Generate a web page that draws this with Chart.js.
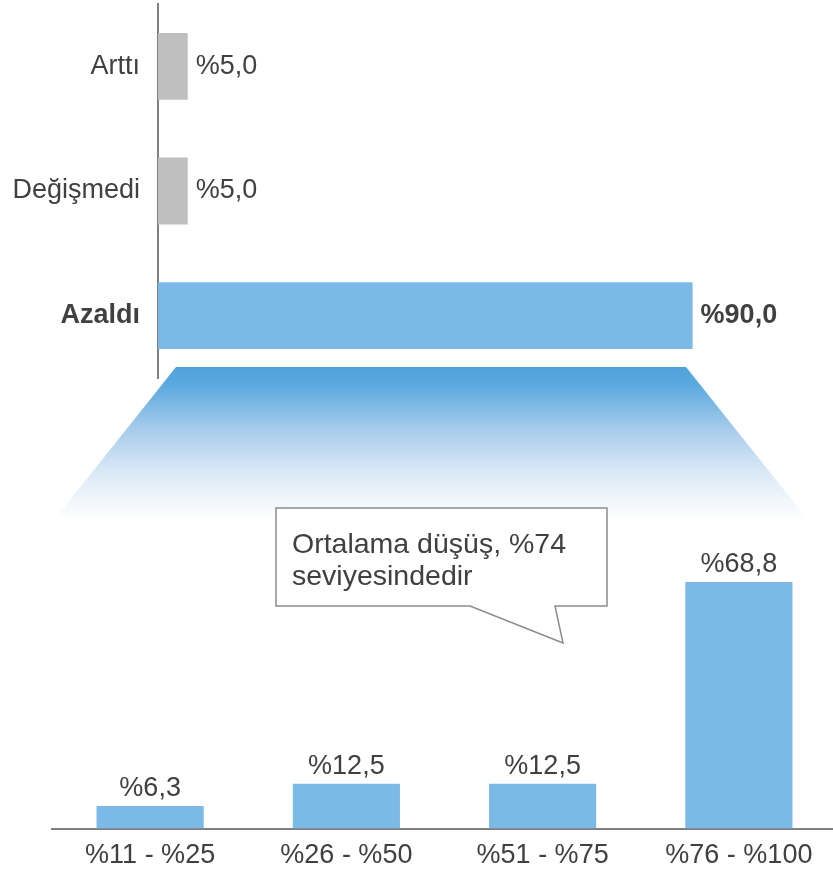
<!doctype html>
<html lang="tr">
<head>
<meta charset="utf-8">
<title>Azalma dağılımı</title>
<script src="https://cdn.jsdelivr.net/npm/chart.js"></script>
<style>
  body { margin: 0; width: 833px; height: 870px; overflow: hidden; background: #fff; position: relative; }
  #top { position: absolute; left: 0; top: 0; z-index: 2; }
  #bottom { position: absolute; left: 0; top: 360px; z-index: 1; }
</style>
</head>
<body>
<canvas id="top" width="833" height="380"></canvas>
<canvas id="bottom" width="840" height="526"></canvas>
<script>
  // ---------------- data ----------------
  const durum_labels = ['Arttı', 'Değişmedi', 'Azaldı']
  const durum_values = [5.0, 5.0, 90.0]
  const dusus_labels = ['%11 - %25', '%26 - %50', '%51 - %75', '%76 - %100']
  const dusus_values = [6.3, 12.5, 12.5, 68.8]
  const callout_lines = ['Ortalama düşüş, %74', 'seviyesindedir']

  const FONT = '"Liberation Sans", Arial, sans-serif'
  const TEXT = '#404040'
  const BLUE = '#7BB9E6'
  const GREY = '#BFBFBF'
  const AXIS = '#808080'

  const fmt = v => '%' + v.toFixed(1).replace('.', ',')

  //---------------- top: horizontal bars ----------------
  const topLabels = {
    id: 'topLabels',
    afterDatasetsDraw(chart) {
      const ctx = chart.ctx
      ctx.save()
      ctx.fillStyle = TEXT
      ctx.textAlign = 'left'
      ctx.textBaseline = 'middle'
      chart.getDatasetMeta(0).data.forEach((bar, i) => {
        ctx.font = (i === 2 ? 'bold ' : '') + '27px ' + FONT
        ctx.fillText(fmt(durum_values[i]), bar.x + 8, bar.y)
      })
      ctx.restore()
    }
  }

  new Chart(document.getElementById('top'), {
    type: 'bar',
    data: {
      labels: durum_labels,
      datasets: [{
        data: durum_values,
        backgroundColor: [GREY, GREY, BLUE],
        barPercentage: 0.536,
        categoryPercentage: 1
      }]
    },
    options: {
      indexAxis: 'y',
      responsive: false,
      animation: false,
      layout: { padding: { top: 4, bottom: 2, right: 81 } },
      plugins: { legend: { display: false }, tooltip: { enabled: false } },
      scales: {
        x: { display: false, min: 0, max: 100 },
        y: {
          afterFit: s => {
            s.width = 158
            s.paddingTop = 0
            s.paddingBottom = 0
          },
          grid: { display: false, drawTicks: false },
          border: { color: AXIS, width: 2 },
          ticks: {
            padding: 18,
            color: TEXT,
            font: c => ({ family: FONT, size: 27, weight: c.index === 2 ? 'bold' : 'normal' })
          }
        }
      }
    },
    plugins: [topLabels]
  })

  //---------------- bottom: vertical bars ----------------
  const zoomShape = {
    id: 'zoomShape',
    beforeDraw(chart) {
      const ctx = chart.ctx
      const g = ctx.createLinearGradient(0, 7, 0, 160)
      g.addColorStop(0, '#4EA3DB')
      g.addColorStop(0.12, '#5BA9DE')
      g.addColorStop(0.4, '#A6CBEB')
      g.addColorStop(0.7, '#DCEAF7')
      g.addColorStop(1, '#FFFFFF')
      ctx.save()
      ctx.fillStyle = g
      ctx.beginPath()
      ctx.moveTo(176, 7)
      ctx.lineTo(686, 7)
      ctx.lineTo(808, 160)
      ctx.lineTo(54, 160)
      ctx.closePath()
      ctx.fill()
      ctx.restore()
    },
    afterDraw(chart) {
      const ctx = chart.ctx
      ctx.save()
      ctx.beginPath()
      ctx.moveTo(276, 148)
      ctx.lineTo(607, 148)
      ctx.lineTo(607, 246)
      ctx.lineTo(555, 246)
      ctx.lineTo(563, 283)
      ctx.lineTo(470, 246)
      ctx.lineTo(276, 246)
      ctx.closePath()
      ctx.fillStyle = '#FFFFFF'
      ctx.fill()
      ctx.strokeStyle = '#8C8C8C'
      ctx.lineWidth = 1.5
      ctx.stroke()
      ctx.fillStyle = TEXT
      ctx.font = '28.5px ' + FONT
      ctx.textAlign = 'left'
      ctx.textBaseline = 'alphabetic'
      callout_lines.forEach((t, i) => ctx.fillText(t, 292, 193 + i * 32))
      ctx.restore()
    }
  }

  const bottomLabels = {
    id: 'bottomLabels',
    afterDatasetsDraw(chart) {
      const ctx = chart.ctx
      ctx.save()
      ctx.fillStyle = TEXT
      ctx.font = '27px ' + FONT
      ctx.textAlign = 'center'
      ctx.textBaseline = 'bottom'
      chart.getDatasetMeta(0).data.forEach((bar, i) => {
        ctx.fillText(fmt(dusus_values[i]), bar.x, bar.y - 4)
      })
      ctx.restore()
    }
  }

  new Chart(document.getElementById('bottom'), {
    type: 'bar',
    data: {
      labels: dusus_labels,
      datasets: [{
        data: dusus_values,
        backgroundColor: BLUE,
        barPercentage: 0.546,
        categoryPercentage: 1
      }]
    },
    options: {
      responsive: false,
      animation: false,
      layout: { padding: { left: 52, top: 110, right: 3, bottom: 3 } },
      plugins: { legend: { display: false }, tooltip: { enabled: false } },
      scales: {
        y: { display: false, min: 0, max: 100 },
        x: {
          grid: { display: false, drawTicks: false },
          border: { color: AXIS, width: 2 },
          ticks: {
            padding: 11,
            color: TEXT,
            maxRotation: 0,
            autoSkip: false,
            font: { family: FONT, size: 27 }
          }
        }
      }
    },
    plugins: [zoomShape, bottomLabels]
  })
</script>
</body>
</html>
